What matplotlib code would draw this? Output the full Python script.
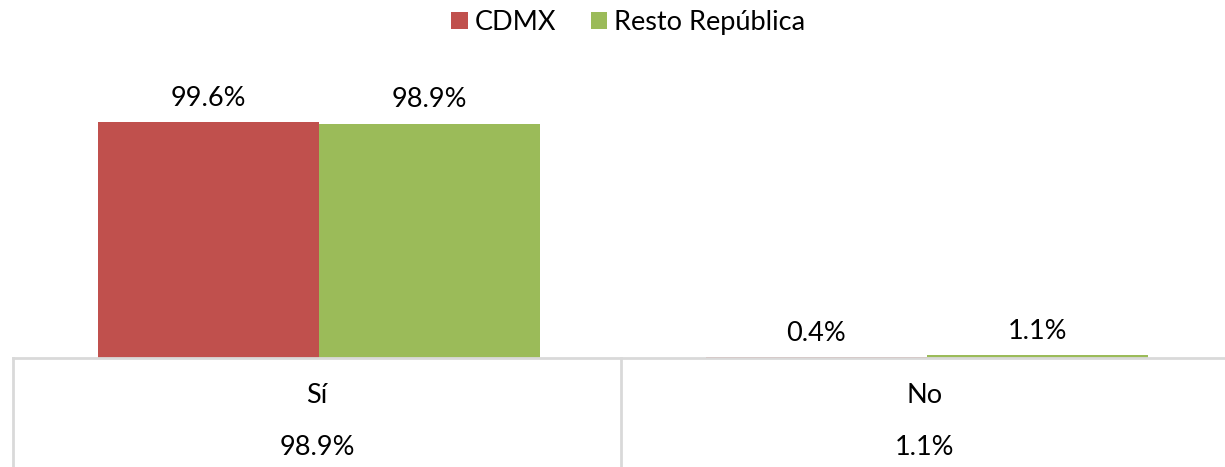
import matplotlib.pyplot as plt
import numpy as np

plt.rcParams['font.family'] = ['Lato', 'DejaVu Sans']

# data
categories = ["Sí", "No"]
cdmx = [99.6, 0.4]
resto = [98.9, 1.1]
table_row = ["98.9%", "1.1%"]

red = "#C0504D"
green = "#9BBB59"
grid = "#D9D9D9"
fs = 19.5

W, H = 1225, 467
fig = plt.figure(figsize=(W / 100, H / 100), dpi=100)

# main bar axes (pixel layout from reference)
left, cat_w, base, top = 15, 608, 358, 50
ax = fig.add_axes([left / W, (H - base) / H, 2 * cat_w / W, (base - top) / H])
x = np.arange(len(categories))
bw = 0.364
b1 = ax.bar(x - bw / 2, cdmx, bw, color=red, label="CDMX")
b2 = ax.bar(x + bw / 2, resto, bw, color=green, label="Resto República")
ax.set_xlim(-0.5, 1.5)
ax.set_ylim(0, (base - top) / 2.37)
for bars, vals in ((b1, cdmx), (b2, resto)):
    for r, v in zip(bars, vals):
        ax.annotate(f"{v}%", (r.get_x() + r.get_width() / 2, v),
                    xytext=(0, 8), textcoords="offset points",
                    ha="center", va="bottom", fontsize=fs)
ax.axis("off")

# table below the bars
tleft = 13
tax = fig.add_axes([tleft / W, 0, 2 * cat_w / W, (H - base) / H])
tax.set_xlim(-0.5, 1.5)
tax.set_ylim(0, 1)
tax.axis("off")
tax.plot([-0.5, 1.5], [1, 1], color=grid, lw=2, clip_on=False)
for xv in [-0.5, 0.5, 1.5]:
    tax.plot([xv, xv], [0, 1], color=grid, lw=2, clip_on=False)
for i, (c, t) in enumerate(zip(categories, table_row)):
    tax.text(i, 0.66, c, ha="center", va="center", fontsize=fs)
    tax.text(i, 0.18, t, ha="center", va="center", fontsize=fs)

fig.legend(loc="upper center", bbox_to_anchor=(0.513, 1.03), ncol=2, frameon=False,
           fontsize=fs, handlelength=0.6, handleheight=0.6, handletextpad=0.25,
           columnspacing=1.3)

fig.savefig("out.png", dpi=100)
